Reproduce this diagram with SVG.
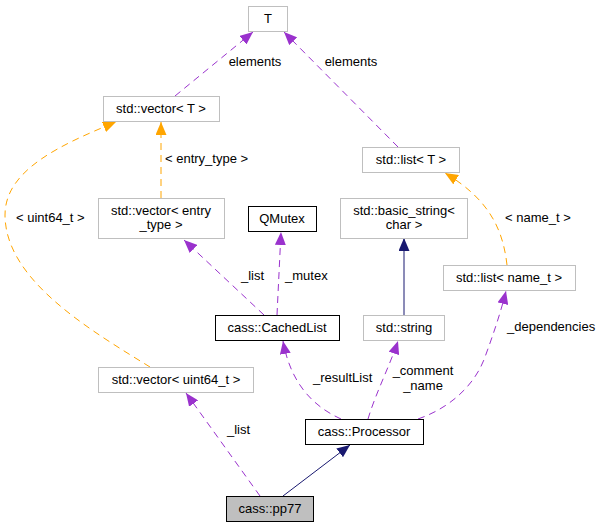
<svg xmlns="http://www.w3.org/2000/svg" width="600" height="528" viewBox="0 0 600 528">
<style>
text{font-family:"Liberation Sans",Arial,sans-serif;font-size:13px;fill:#000}
.n text{text-anchor:middle}
.ext{fill:#fff;stroke:#bfbfbf;stroke-width:1}
.doc{fill:#fff;stroke:#000;stroke-width:1}
.cur{fill:#bfbfbf;stroke:#000;stroke-width:1}
.u{fill:none;stroke:#9a32cd;stroke-dasharray:7,5;stroke-width:1}
.t{fill:none;stroke:#ffa500;stroke-dasharray:7,5;stroke-width:1}
.i{fill:none;stroke:#191970;stroke-width:1}
.m{text-anchor:middle}
</style>
<defs>
<marker id="ap" markerUnits="userSpaceOnUse" markerWidth="14" markerHeight="11" refX="13" refY="5.5" orient="auto"><path d="M0,0 L13,5.5 L0,11 z" fill="#9a32cd"/></marker>
<marker id="ao" markerUnits="userSpaceOnUse" markerWidth="14" markerHeight="11" refX="13" refY="5.5" orient="auto"><path d="M0,0 L13,5.5 L0,11 z" fill="#ffa500"/></marker>
<marker id="an" markerUnits="userSpaceOnUse" markerWidth="14" markerHeight="11" refX="13" refY="5.5" orient="auto"><path d="M0,0 L13,5.5 L0,11 z" fill="#191970"/></marker>
</defs>
<rect width="600" height="528" fill="#fff"/>
<g id="edges">
<path class="u" d="M175,96 L253,32" marker-end="url(#ap)"/>
<text x="255" y="66" class="m">elements</text>
<path class="u" d="M398,147 L284,32" marker-end="url(#ap)"/>
<text x="351" y="66" class="m">elements</text>
<path class="t" d="M161,198 L161,122" marker-end="url(#ao)"/>
<text x="165" y="163">&lt; entry_type &gt;</text>
<path class="t" d="M150,367 C90,330 5,280 5,215 C5,170 60,145 116,122" marker-end="url(#ao)"/>
<text x="16" y="222">&lt; uint64_t &gt;</text>
<path class="t" d="M507,265 C503,230 490,200 445,173" marker-end="url(#ao)"/>
<text x="505" y="222">&lt; name_t &gt;</text>
<path class="u" d="M264,315 L184,240" marker-end="url(#ap)"/>
<text x="241" y="280">_list</text>
<path class="u" d="M277,315 L281,232" marker-end="url(#ap)"/>
<text x="285" y="280">_mutex</text>
<path class="i" d="M404,315 L404,238" marker-end="url(#an)"/>
<path class="u" d="M341,419 C310,405 290,380 283,341" marker-end="url(#ap)"/>
<text x="313" y="382">_resultList</text>
<path class="u" d="M368,419 C375,395 390,365 398,341" marker-end="url(#ap)"/>
<text x="423" y="375" class="m">_comment</text>
<text x="423" y="390" class="m">_name</text>
<path class="u" d="M418,419 C450,408 475,385 485,357 C493,335 500,315 506,291" marker-end="url(#ap)"/>
<text x="507" y="331">_dependencies</text>
<path class="u" d="M260,496 L186,393" marker-end="url(#ap)"/>
<text x="227" y="434">_list</text>
<path class="i" d="M283,496 L350,445" marker-end="url(#an)"/>
</g>
<g id="T" class="n"><rect class="ext" x="248.5" y="6.5" width="39" height="25"/><text x="268" y="23">T</text></g>
<g id="vectorT" class="n"><rect class="ext" x="103.5" y="96.5" width="116" height="25"/><text x="161" y="113">std::vector&lt; T &gt;</text></g>
<g id="listT" class="n"><rect class="ext" x="362.5" y="147.5" width="97" height="25"/><text x="411" y="164">std::list&lt; T &gt;</text></g>
<g id="vectorEntry" class="n"><rect class="ext" x="98.5" y="198.5" width="126" height="40"/><text x="161" y="215">std::vector&lt; entry</text><text x="161" y="229">_type &gt;</text></g>
<g id="QMutex" class="n"><rect class="doc" x="248.5" y="206.5" width="68" height="25"/><text x="282" y="223">QMutex</text></g>
<g id="basicString" class="n"><rect class="ext" x="340.5" y="198.5" width="127" height="40"/><text x="404" y="215">std::basic_string&lt;</text><text x="404" y="229">char &gt;</text></g>
<g id="listName" class="n"><rect class="ext" x="443.5" y="265.5" width="132" height="25"/><text x="509" y="282">std::list&lt; name_t &gt;</text></g>
<g id="CachedList" class="n"><rect class="doc" x="215.5" y="315.5" width="124" height="25"/><text x="277" y="332">cass::CachedList</text></g>
<g id="string" class="n"><rect class="ext" x="363.5" y="315.5" width="81" height="25"/><text x="404" y="332">std::string</text></g>
<g id="vectorU64" class="n"><rect class="ext" x="98.5" y="367.5" width="155" height="25"/><text x="176" y="384">std::vector&lt; uint64_t &gt;</text></g>
<g id="Processor" class="n"><rect class="doc" x="305.5" y="419.5" width="118" height="25"/><text x="364" y="436">cass::Processor</text></g>
<g id="pp77" class="n"><rect class="cur" x="226.5" y="496.5" width="87" height="25"/><text x="270" y="513">cass::pp77</text></g>
</svg>
